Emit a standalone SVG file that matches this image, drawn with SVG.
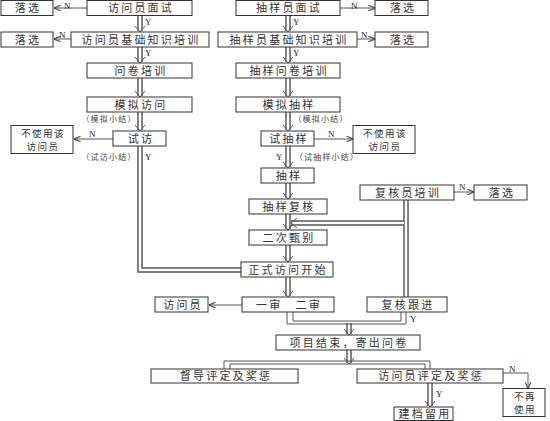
<svg xmlns="http://www.w3.org/2000/svg" width="550" height="421" viewBox="0 0 550 421">
<style>
.b{fill:#fff;stroke:#333;stroke-width:1}
.t{font-family:"Noto Sans CJK SC",sans-serif;font-size:11px;letter-spacing:2.2px;fill:#333;text-anchor:middle}
.t2{font-family:"Noto Sans CJK SC",sans-serif;font-size:9.5px;letter-spacing:1.5px;fill:#333;text-anchor:middle}
.s{font-family:"Noto Sans CJK SC",sans-serif;font-size:8px;letter-spacing:1.2px;fill:#444;text-anchor:middle}
.yn{font-family:"Liberation Serif",serif;font-size:9px;fill:#222}
.d{fill:none;stroke:#555;stroke-width:5.5}
.di{fill:none;stroke:#fff;stroke-width:2.6}
.h{fill:none;stroke:#555;stroke-width:1}
.l{fill:none;stroke:#555;stroke-width:1}
</style>
<defs>
<marker id="a" viewBox="0 0 8 8" refX="7.5" refY="4" markerWidth="7" markerHeight="7" markerUnits="userSpaceOnUse" orient="auto"><path d="M0,0.8 L8,4 L0,7.2" fill="none" stroke="#444" stroke-width="1.2"/></marker>
</defs>
<g id="connectors">
<path class="d" d="M140,15.5V31 M140,47V62 M140,78V96 M140,112V130 M288,15.5V31 M288,47V62 M288,78V96 M288,112V130 M288,146V167 M288,183V198 M288,214V229 M288,245V261 M288,277V296 M349,350V363 M349,323V334 M430,383V406"/>
<path class="di" d="M140,15.5V31 M140,47V62 M140,78V96 M140,112V130 M288,15.5V31 M288,47V62 M288,78V96 M288,112V130 M288,146V167 M288,183V198 M288,214V229 M288,245V261 M288,277V296 M349,350V363 M349,323V334 M430,383V406"/>
<path class="h" d="M135,26L140,32L145,26 M135,57L140,63L145,57 M135,91L140,97L145,91 M135,125L140,131L145,125 M283,26L288,32L293,26 M283,57L288,63L293,57 M283,91L288,97L293,91 M283,125L288,131L293,125 M283,162L288,168L293,162 M283,193L288,199L293,193 M283,224L288,230L293,224 M283,256L288,262L293,256 M283,291L288,297L293,291 M344,358L349,364L354,358 M344,329L349,335L354,329 M425,401L430,407L435,401"/>
<path class="d" d="M140,146V270H241"/>
<path class="di" d="M140,146V270H241"/>
<path class="d" d="M406,200V297 M404,223H291"/>
<path class="di" d="M406,200V297 M404,223H291"/>
<path class="h" d="M297,218L291,223L297,228"/>
<path class="l" d="M287,312V324H406V312 M293,312V321H401V312"/>
<path class="l" d="M224,369V361H430V369 M230,369V364H425V369"/>
<path class="l" marker-end="url(#a)" d="M87,8H54"/>
<path class="l" marker-end="url(#a)" d="M71,39H54"/>
<path class="l" marker-end="url(#a)" d="M113,139H74"/>
<path class="l" marker-end="url(#a)" d="M340,8H375"/>
<path class="l" marker-end="url(#a)" d="M357,39H375"/>
<path class="l" marker-end="url(#a)" d="M314,139H353"/>
<path class="l" marker-end="url(#a)" d="M454,192H474"/>
<path class="l" marker-end="url(#a)" d="M242,305H209"/>
<path class="l" marker-end="url(#a)" d="M503,373H528V388.5"/>
</g>
<g id="labels">
<text class="yn" x="64" y="8.5">N</text>
<text class="yn" x="59" y="38">N</text>
<text class="yn" x="89" y="137">N</text>
<text class="yn" x="351" y="8.5">N</text>
<text class="yn" x="361" y="38">N</text>
<text class="yn" x="328" y="137">N</text>
<text class="yn" x="459" y="190">N</text>
<text class="yn" x="509" y="372">N</text>
<text class="yn" x="145" y="25">Y</text>
<text class="yn" x="145" y="56">Y</text>
<text class="yn" x="145" y="160">Y</text>
<text class="yn" x="293" y="25">Y</text>
<text class="yn" x="293" y="56">Y</text>
<text class="yn" x="276" y="160">Y</text>
<text class="yn" x="410" y="322">Y</text>
<text class="yn" x="436" y="397">Y</text>
<text class="s" x="109" y="122">（模拟小结）</text>
<text class="s" x="109" y="160">（试访小结）</text>
<text class="s" x="321" y="122">（模拟小结）</text>
<text class="s" x="327" y="160">（试抽样小结）</text>
</g>
<g id="n1"><rect class="b" x="1" y="0.5" width="52" height="15"/><text class="t" x="28" y="12">落选</text></g>
<g id="n2"><rect class="b" x="87" y="0.5" width="105" height="15"/><text class="t" x="141" y="12">访问员面试</text></g>
<g id="n3"><rect class="b" x="1" y="32" width="52" height="15"/><text class="t" x="28" y="43.5">落选</text></g>
<g id="n4"><rect class="b" x="71" y="32" width="138" height="15"/><text class="t" x="141" y="43.5">访问员基础知识培训</text></g>
<g id="n5"><rect class="b" x="87" y="63" width="105" height="15"/><text class="t" x="141" y="74.5">问卷培训</text></g>
<g id="n6"><rect class="b" x="87" y="97" width="105" height="15"/><text class="t" x="141" y="108.5">模拟访问</text></g>
<g id="n7"><rect class="b" x="113" y="131" width="53" height="15"/><text class="t" x="141" y="142.5">试访</text></g>
<g id="n8"><rect class="b" x="11" y="125.5" width="62" height="28"/><text class="t2" x="43" y="136.5">不使用该</text><text class="t2" x="43" y="150.3">访问员</text></g>
<g id="n9"><rect class="b" x="236" y="0.5" width="104" height="15"/><text class="t" x="289" y="12">抽样员面试</text></g>
<g id="n10"><rect class="b" x="375" y="0.5" width="53" height="15"/><text class="t" x="403" y="12">落选</text></g>
<g id="n11"><rect class="b" x="218" y="32" width="139" height="15"/><text class="t" x="289" y="43.5">抽样员基础知识培训</text></g>
<g id="n12"><rect class="b" x="375" y="32" width="53" height="15"/><text class="t" x="403" y="43.5">落选</text></g>
<g id="n13"><rect class="b" x="236" y="63" width="104" height="15"/><text class="t" x="289" y="74.5">抽样问卷培训</text></g>
<g id="n14"><rect class="b" x="236" y="97" width="104" height="15"/><text class="t" x="289" y="108.5">模拟抽样</text></g>
<g id="n15"><rect class="b" x="261" y="131" width="53" height="15"/><text class="t" x="289" y="142.5">试抽样</text></g>
<g id="n16"><rect class="b" x="353" y="125.5" width="62" height="28"/><text class="t2" x="385" y="136.5">不使用该</text><text class="t2" x="385" y="150.3">访问员</text></g>
<g id="n17"><rect class="b" x="261" y="168" width="53" height="15"/><text class="t" x="289" y="179.5">抽样</text></g>
<g id="n18"><rect class="b" x="249" y="199" width="78" height="15"/><text class="t" x="289" y="210.5">抽样复核</text></g>
<g id="n19"><rect class="b" x="360" y="185" width="94" height="15"/><text class="t" x="408" y="196.5">复核员培训</text></g>
<g id="n20"><rect class="b" x="474" y="185" width="53" height="15"/><text class="t" x="502" y="196.5">落选</text></g>
<g id="n21"><rect class="b" x="249" y="230" width="78" height="15"/><text class="t" x="289" y="241.5">二次甄别</text></g>
<g id="n22"><rect class="b" x="241" y="262" width="92" height="15"/><text class="t" x="288" y="273.5">正式访问开始</text></g>
<g id="n23"><rect class="b" x="242" y="297" width="92" height="15"/><text class="t" x="289" y="308.5">一审　二审</text></g>
<g id="n24"><rect class="b" x="155" y="297" width="53" height="15"/><text class="t" x="183" y="308.5">访问员</text></g>
<g id="n25"><rect class="b" x="367" y="297" width="80" height="15"/><text class="t" x="408" y="308.5">复核跟进</text></g>
<g id="n26"><rect class="b" x="276" y="335" width="144" height="15"/><text class="t" x="349" y="346.5">项目结束，寄出问卷</text></g>
<g id="n27"><rect class="b" x="151" y="369" width="147" height="14"/><text class="t" x="226" y="380">督导评定及奖惩</text></g>
<g id="n28"><rect class="b" x="357" y="369" width="146" height="14"/><text class="t" x="431" y="380">访问员评定及奖惩</text></g>
<g id="n29"><rect class="b" x="394" y="407" width="59" height="13.5"/><text class="t" x="425" y="418">建档留用</text></g>
<g id="n30"><rect class="b" x="503" y="388.5" width="42" height="28"/><text class="t2" x="525" y="399.5">不再</text><text class="t2" x="525" y="413.3">使用</text></g>
</svg>
